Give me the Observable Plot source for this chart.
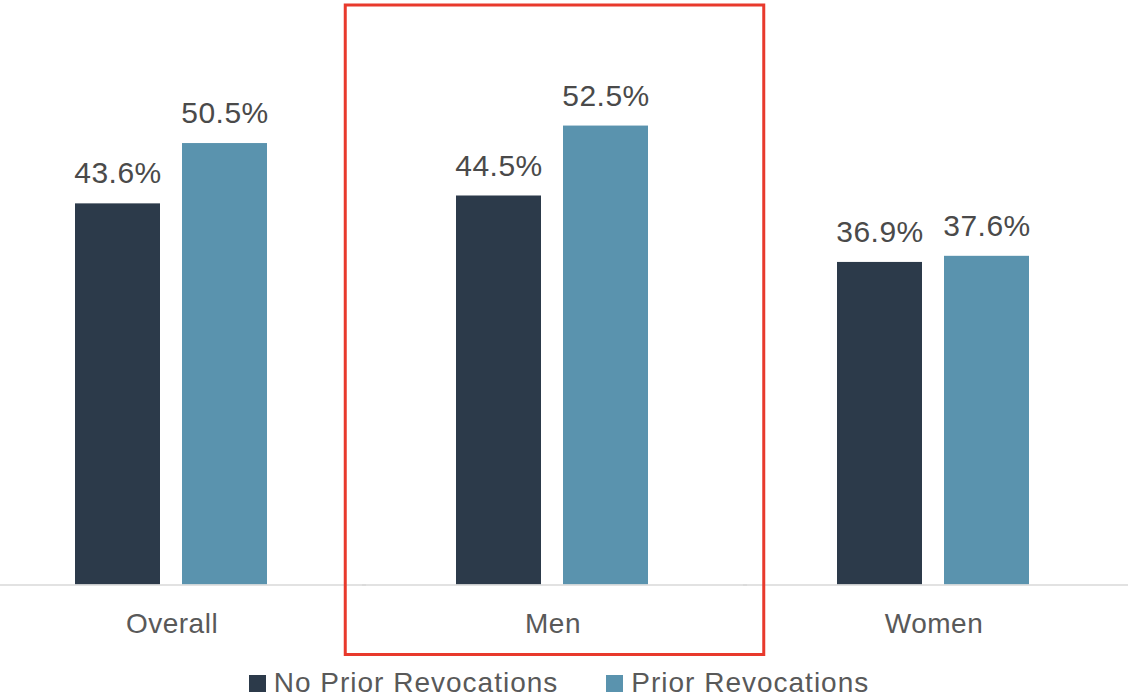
<!DOCTYPE html>
<html>
<head>
<meta charset="utf-8">
<script src="https://cdn.jsdelivr.net/npm/d3@7"></script>
<script src="https://cdn.jsdelivr.net/npm/@observablehq/plot@0.6"></script>
<style>
  html, body { margin: 0; padding: 0; background: #fff; }
  body { width: 1128px; height: 700px; overflow: hidden; font-family: "Liberation Sans", Arial, sans-serif; }
  #legend { display: flex; justify-content: center; align-items: center; gap: 48px; height: 46px; padding-right: 10px;
            font-size: 28px; letter-spacing: 1px; color: #595959; }
  #legend .item { display: flex; align-items: center; gap: 8px; }
  #legend .sw { width: 17px; height: 17px; display: inline-block; }
</style>
</head>
<body>
<div id="chart"></div>
<div id="legend"></div>
<script>
const groups = ["Overall", "Men", "Women"];
const series = ["No Prior Revocations", "Prior Revocations"];
const noPriorValues = [43.6, 44.5, 36.9];
const priorValues = [50.5, 52.5, 37.6];
const seriesColors = ["#2c3a4a", "#5a93ae"];
const highlightedGroup = ["Men"];

const rows = [];
groups.forEach((g, i) => {
  rows.push({group: g, series: series[0], value: noPriorValues[i]});
  rows.push({group: g, series: series[1], value: priorValues[i]});
});

const chart = Plot.plot({
  width: 1128,
  height: 660,
  marginTop: 60,
  marginBottom: 75.5,
  marginLeft: 0,
  marginRight: 0,
  style: {fontFamily: "Liberation Sans, Arial, sans-serif", fontSize: "28px", color: "#595959", letterSpacing: "0.5px", background: "#fff"},
  fx: {domain: groups, range: [-19.75, 1124.75], padding: 0, axis: "bottom", tickSize: 0, tickPadding: 28, label: null},
  x: {domain: series, paddingInner: 0.2037, paddingOuter: 0.868, axis: null},
  y: {domain: [0, 60], axis: null},
  color: {domain: series, range: seriesColors},
  marks: [
    Plot.barY(rows, {fx: "group", x: "series", y: "value", fill: "series"}),
    Plot.ruleY([0], {stroke: "#d9d9d9", strokeWidth: 1.5, insetRight: -4}),
    Plot.text(rows, {fx: "group", x: "series", y: "value", text: d => d.value.toFixed(1) + "%",
      dy: -30, fontSize: 30, fill: "#4a4a4a", letterSpacing: "0px"}),
    Plot.rect(highlightedGroup.map(g => ({group: g})), {fx: "group", fill: "none", stroke: "#e8392c", strokeWidth: 3,
      insetLeft: -16.75, insetRight: -20.75, insetTop: -55, insetBottom: -70})
  ]
});
document.getElementById("chart").appendChild(chart);

const legend = document.getElementById("legend");
series.forEach((s, i) => {
  const item = document.createElement("div");
  item.className = "item";
  const sw = document.createElement("span");
  sw.className = "sw";
  sw.style.background = seriesColors[i];
  const label = document.createElement("span");
  label.textContent = s;
  item.appendChild(sw);
  item.appendChild(label);
  legend.appendChild(item);
});
</script>
</body>
</html>
